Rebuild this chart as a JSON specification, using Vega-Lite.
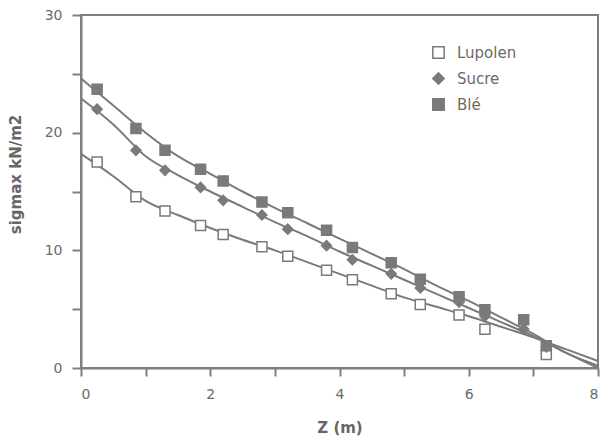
{
  "$schema": "https://vega.github.io/schema/vega-lite/v6.json",
  "width": 517,
  "height": 353,
  "autosize": "none",
  "padding": {"left": 81, "top": 15, "right": 3, "bottom": 77},
  "background": "white",
  "config": {"view": {"stroke": "#7f7f7f", "strokeWidth": 2}, "font": "DejaVu Sans"},
  "datasets": {
    "curves": [
      {"series": "Blé", "z": 0, "sigma": 24.6}, {"series": "Blé", "z": 0.5, "sigma": 22.3}, {"series": "Blé", "z": 1, "sigma": 20.0}, {"series": "Blé", "z": 1.5, "sigma": 18.0}, {"series": "Blé", "z": 2, "sigma": 16.5}, {"series": "Blé", "z": 2.5, "sigma": 15.0}, {"series": "Blé", "z": 3, "sigma": 13.6}, {"series": "Blé", "z": 3.5, "sigma": 12.3}, {"series": "Blé", "z": 4, "sigma": 11.0}, {"series": "Blé", "z": 4.5, "sigma": 9.7}, {"series": "Blé", "z": 5, "sigma": 8.4}, {"series": "Blé", "z": 5.5, "sigma": 7.0}, {"series": "Blé", "z": 6, "sigma": 5.7}, {"series": "Blé", "z": 6.5, "sigma": 4.3}, {"series": "Blé", "z": 7, "sigma": 2.9}, {"series": "Blé", "z": 7.5, "sigma": 1.3}, {"series": "Blé", "z": 8, "sigma": 0.2},
      {"series": "Sucre", "z": 0, "sigma": 22.9}, {"series": "Sucre", "z": 0.5, "sigma": 20.7}, {"series": "Sucre", "z": 1, "sigma": 18.0}, {"series": "Sucre", "z": 1.5, "sigma": 16.4}, {"series": "Sucre", "z": 2, "sigma": 15.0}, {"series": "Sucre", "z": 2.5, "sigma": 13.7}, {"series": "Sucre", "z": 3, "sigma": 12.4}, {"series": "Sucre", "z": 3.5, "sigma": 11.2}, {"series": "Sucre", "z": 4, "sigma": 9.9}, {"series": "Sucre", "z": 4.5, "sigma": 8.7}, {"series": "Sucre", "z": 5, "sigma": 7.5}, {"series": "Sucre", "z": 5.5, "sigma": 6.3}, {"series": "Sucre", "z": 6, "sigma": 5.1}, {"series": "Sucre", "z": 6.5, "sigma": 3.9}, {"series": "Sucre", "z": 7, "sigma": 2.7}, {"series": "Sucre", "z": 7.5, "sigma": 1.3}, {"series": "Sucre", "z": 8, "sigma": 0.0},
      {"series": "Lupolen", "z": 0, "sigma": 18.2}, {"series": "Lupolen", "z": 0.5, "sigma": 16.3}, {"series": "Lupolen", "z": 1, "sigma": 14.2}, {"series": "Lupolen", "z": 1.5, "sigma": 13.0}, {"series": "Lupolen", "z": 2, "sigma": 11.9}, {"series": "Lupolen", "z": 2.5, "sigma": 10.9}, {"series": "Lupolen", "z": 3, "sigma": 10.0}, {"series": "Lupolen", "z": 3.5, "sigma": 9.0}, {"series": "Lupolen", "z": 4, "sigma": 8.0}, {"series": "Lupolen", "z": 4.5, "sigma": 7.0}, {"series": "Lupolen", "z": 5, "sigma": 6.0}, {"series": "Lupolen", "z": 5.5, "sigma": 5.2}, {"series": "Lupolen", "z": 6, "sigma": 4.4}, {"series": "Lupolen", "z": 6.5, "sigma": 3.5}, {"series": "Lupolen", "z": 7, "sigma": 2.6}, {"series": "Lupolen", "z": 7.5, "sigma": 1.6}, {"series": "Lupolen", "z": 8, "sigma": 0.6}
    ],
    "pts": [
      {"series": "Lupolen", "z": 0.25, "sigma": 17.5}, {"series": "Lupolen", "z": 0.85, "sigma": 14.55}, {"series": "Lupolen", "z": 1.3, "sigma": 13.35}, {"series": "Lupolen", "z": 1.85, "sigma": 12.1}, {"series": "Lupolen", "z": 2.2, "sigma": 11.35}, {"series": "Lupolen", "z": 2.8, "sigma": 10.3}, {"series": "Lupolen", "z": 3.2, "sigma": 9.5}, {"series": "Lupolen", "z": 3.8, "sigma": 8.3}, {"series": "Lupolen", "z": 4.2, "sigma": 7.5}, {"series": "Lupolen", "z": 4.8, "sigma": 6.3}, {"series": "Lupolen", "z": 5.25, "sigma": 5.4}, {"series": "Lupolen", "z": 5.85, "sigma": 4.5}, {"series": "Lupolen", "z": 6.25, "sigma": 3.3}, {"series": "Lupolen", "z": 7.2, "sigma": 1.15},
      {"series": "Sucre", "z": 0.25, "sigma": 22.0}, {"series": "Sucre", "z": 0.85, "sigma": 18.5}, {"series": "Sucre", "z": 1.3, "sigma": 16.8}, {"series": "Sucre", "z": 1.85, "sigma": 15.35}, {"series": "Sucre", "z": 2.2, "sigma": 14.25}, {"series": "Sucre", "z": 2.8, "sigma": 13.0}, {"series": "Sucre", "z": 3.2, "sigma": 11.8}, {"series": "Sucre", "z": 3.8, "sigma": 10.4}, {"series": "Sucre", "z": 4.2, "sigma": 9.2}, {"series": "Sucre", "z": 4.8, "sigma": 8.0}, {"series": "Sucre", "z": 5.25, "sigma": 6.8}, {"series": "Sucre", "z": 5.85, "sigma": 5.6}, {"series": "Sucre", "z": 6.25, "sigma": 4.4}, {"series": "Sucre", "z": 6.85, "sigma": 3.3}, {"series": "Sucre", "z": 7.2, "sigma": 1.8},
      {"series": "Blé", "z": 0.25, "sigma": 23.7}, {"series": "Blé", "z": 0.85, "sigma": 20.35}, {"series": "Blé", "z": 1.3, "sigma": 18.5}, {"series": "Blé", "z": 1.85, "sigma": 16.9}, {"series": "Blé", "z": 2.2, "sigma": 15.9}, {"series": "Blé", "z": 2.8, "sigma": 14.1}, {"series": "Blé", "z": 3.2, "sigma": 13.2}, {"series": "Blé", "z": 3.8, "sigma": 11.7}, {"series": "Blé", "z": 4.2, "sigma": 10.25}, {"series": "Blé", "z": 4.8, "sigma": 8.95}, {"series": "Blé", "z": 5.25, "sigma": 7.55}, {"series": "Blé", "z": 5.85, "sigma": 6.05}, {"series": "Blé", "z": 6.25, "sigma": 4.95}, {"series": "Blé", "z": 6.85, "sigma": 4.1}, {"series": "Blé", "z": 7.2, "sigma": 1.9}
    ]
  },
  "encoding": {
    "x": {
      "field": "z", "type": "quantitative",
      "scale": {"domain": [0, 8], "nice": false, "zero": false},
      "axis": {
        "title": "Z (m)", "values": [0, 1, 2, 3, 4, 5, 6, 7, 8],
        "labelExpr": "datum.value % 2 === 0 ? datum.label : ''",
        "grid": false, "domainColor": "#7f7f7f", "domainWidth": 2,
        "tickColor": "#7f7f7f", "tickWidth": 2, "tickSize": 8,
        "labelPadding": 11, "labelFont": "DejaVu Sans", "labelFontSize": 14, "labelColor": "#6b6b6b",
        "titleFont": "DejaVu Sans", "titleFontSize": 15, "titleFontWeight": "bold", "titleColor": "#666666",
        "titleY": 52, "titleBaseline": "top",
        "encode": {"ticks": {"update": {"y2": {"signal": "datum.value % 2 === 0 ? 9 : 6"}}}}
      }
    },
    "y": {
      "field": "sigma", "type": "quantitative",
      "scale": {"domain": [0, 30], "nice": false},
      "axis": {
        "title": "sigmax  kN/m2", "values": [0, 5, 10, 15, 20, 25, 30],
        "labelExpr": "datum.value % 10 === 0 ? datum.label : ''",
        "grid": false, "domainColor": "#7f7f7f", "domainWidth": 2,
        "tickColor": "#7f7f7f", "tickWidth": 2, "tickSize": 9,
        "labelPadding": 10, "labelFont": "DejaVu Sans", "labelFontSize": 14, "labelColor": "#6b6b6b",
        "titleFont": "DejaVu Sans", "titleFontSize": 15, "titleFontWeight": "bold", "titleColor": "#666666",
        "titleX": -61, "titleY": 159, "titleAngle": 270, "titleBaseline": "alphabetic", "titleAlign": "center",
        "encode": {"ticks": {"update": {"x2": {"signal": "datum.value % 10 === 0 ? -9 : -4"}}}}
      }
    }
  },
  "layer": [
    {
      "data": {"name": "curves"},
      "mark": {"type": "line", "interpolate": "monotone", "strokeWidth": 2, "color": "#7a7a7a"},
      "encoding": {"detail": {"field": "series"}}
    },
    {
      "data": {"name": "pts"},
      "mark": {"type": "point", "size": 100, "opacity": 1, "fillOpacity": 1, "strokeWidth": 1.5},
      "encoding": {
        "shape": {
          "field": "series", "type": "nominal",
          "scale": {"domain": ["Lupolen", "Sucre", "Blé"], "range": ["square", "diamond", "square"]},
          "legend": {"orient": "none", "legendX": 350, "legendY": 30, "title": null, "labelFontSize": 15, "labelColor": "#6b6b6b", "labelFont": "DejaVu Sans", "symbolSize": 130, "rowPadding": 7, "labelOffset": 11, "padding": 0, "symbolStrokeWidth": 1.5}
        },
        "fill": {
          "field": "series", "type": "nominal",
          "scale": {"domain": ["Lupolen", "Sucre", "Blé"], "range": ["#ffffff", "#7a7a7a", "#7a7a7a"]},
          "legend": {"orient": "none", "legendX": 350, "legendY": 30, "title": null, "labelFontSize": 15, "labelColor": "#6b6b6b", "labelFont": "DejaVu Sans", "symbolSize": 130, "rowPadding": 7, "labelOffset": 11, "padding": 0, "symbolStrokeWidth": 1.5}
        },
        "stroke": {
          "field": "series", "type": "nominal",
          "scale": {"domain": ["Lupolen", "Sucre", "Blé"], "range": ["#7a7a7a", "#7a7a7a", "#7a7a7a"]},
          "legend": {"orient": "none", "legendX": 350, "legendY": 30, "title": null, "labelFontSize": 15, "labelColor": "#6b6b6b", "labelFont": "DejaVu Sans", "symbolSize": 130, "rowPadding": 7, "labelOffset": 11, "padding": 0, "symbolStrokeWidth": 1.5}
        }
      }
    }
  ]
}
